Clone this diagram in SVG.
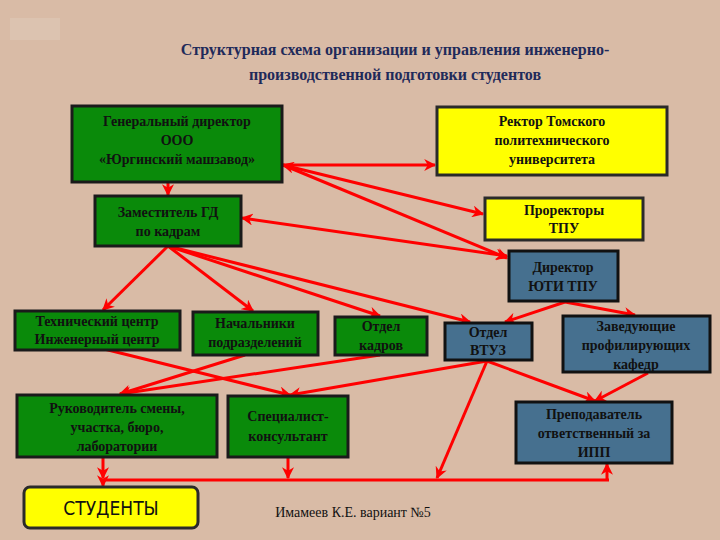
<svg xmlns="http://www.w3.org/2000/svg" width="720" height="540" viewBox="0 0 720 540">
<defs>
<marker id="a" viewBox="0 0 10 10" refX="9" refY="5" markerWidth="4" markerHeight="4" orient="auto-start-reverse"><path d="M0,0 L10,5 L0,10 L3,5 z" fill="#f00"/></marker>
<style>
.g{fill:#0a8a0a;stroke:#1a1a1a;stroke-width:3}
.y{fill:#ffff00;stroke:#2a2a2a;stroke-width:3}
.b{fill:#46708f;stroke:#111;stroke-width:3}
text{font-family:"Liberation Serif",serif;font-size:14px;fill:#111;text-anchor:middle;font-weight:bold}
.c line,.c path{stroke:#f00;stroke-width:3;fill:none}
</style>
</defs>
<rect width="720" height="540" fill="#d9bba6"/>
<rect x="10" y="18" width="50" height="22" fill="#dcc3b0"/>
<text x="395" y="55" style="font-size:16px;fill:#1f2a5a">Структурная  схема организации и управления инженерно-</text>
<text x="395" y="80" style="font-size:16px;fill:#1f2a5a">производственной подготовки студентов</text>
<g class="c">
<line x1="283" y1="165" x2="435" y2="165" marker-end="url(#a)"/>
<line x1="283" y1="165" x2="483" y2="214" marker-start="url(#a)" marker-end="url(#a)"/>
<line x1="283" y1="165" x2="507" y2="258" marker-end="url(#a)"/>
<line x1="168" y1="183" x2="168" y2="195" marker-end="url(#a)"/>
<line x1="242" y1="218" x2="507" y2="256" marker-start="url(#a)" marker-end="url(#a)"/>
<line x1="168" y1="246" x2="103" y2="310" marker-end="url(#a)"/>
<line x1="168" y1="246" x2="253" y2="311" marker-end="url(#a)"/>
<line x1="168" y1="246" x2="380" y2="316" marker-end="url(#a)"/>
<line x1="168" y1="246" x2="470" y2="322" marker-end="url(#a)"/>
<line x1="565" y1="302" x2="505" y2="322" marker-end="url(#a)"/>
<line x1="565" y1="302" x2="635" y2="315" marker-end="url(#a)"/>
<line x1="100" y1="348" x2="290" y2="395" marker-end="url(#a)"/>
<line x1="245" y1="355" x2="120" y2="394" marker-end="url(#a)"/>
<line x1="380" y1="355" x2="120" y2="394" marker-end="url(#a)"/>
<line x1="487" y1="361" x2="290" y2="395" marker-end="url(#a)"/>
<line x1="487" y1="361" x2="595" y2="401" marker-end="url(#a)"/>
<line x1="648" y1="373" x2="595" y2="401" marker-end="url(#a)"/>
<line x1="487" y1="361" x2="437" y2="478" marker-end="url(#a)"/>
<line x1="101" y1="480" x2="609" y2="480"/>
<line x1="103" y1="458" x2="103" y2="478" marker-end="url(#a)"/>
<line x1="288" y1="458" x2="288" y2="478" marker-end="url(#a)"/>
<line x1="607" y1="480" x2="607" y2="464" marker-end="url(#a)"/>
<line x1="103" y1="480" x2="103" y2="486" marker-end="url(#a)"/>
</g>
<g id="gd"><rect class="g" x="72" y="106" width="210" height="76"/><text x="177" y="126">Генеральный директор</text><text x="177" y="145">ООО</text><text x="177" y="164">«Юргинский машзавод»</text></g>
<g id="rector"><rect class="y" x="437" y="107" width="230" height="68"/><text x="552" y="126">Ректор Томского</text><text x="552" y="145">политехнического</text><text x="552" y="164">университета</text></g>
<g id="zam"><rect class="g" x="95" y="196" width="146" height="50"/><text x="168" y="217">Заместитель ГД</text><text x="168" y="236">по кадрам</text></g>
<g id="prorector"><rect class="y" x="485" y="198" width="158" height="42"/><text x="564" y="215">Проректоры</text><text x="564" y="233">ТПУ</text></g>
<g id="director"><rect class="b" x="509" y="251" width="109" height="50"/><text x="563" y="272">Директор</text><text x="563" y="291">ЮТИ ТПУ</text></g>
<g id="tech"><rect class="g" x="15" y="311" width="165" height="39"/><text x="97" y="326">Технический центр</text><text x="97" y="344">Инженерный центр</text></g>
<g id="nach"><rect class="g" x="193" y="312" width="125" height="43"/><text x="255" y="328">Начальники</text><text x="255" y="347">подразделений</text></g>
<g id="kadr"><rect class="g" x="335" y="317" width="92" height="38"/><text x="381" y="331">Отдел</text><text x="381" y="350">кадров</text></g>
<g id="vtuz"><rect class="b" x="445" y="323" width="87" height="37"/><text x="488" y="337">Отдел</text><text x="488" y="355">ВТУЗ</text></g>
<g id="zaved"><rect class="b" x="563" y="316" width="147" height="56"/><text x="636" y="331">Заведующие</text><text x="636" y="350">профилирующих</text><text x="636" y="369">кафедр</text></g>
<g id="ruk"><rect class="g" x="17" y="395" width="200" height="62"/><text x="117" y="413">Руководитель смены,</text><text x="117" y="432">участка, бюро,</text><text x="117" y="451">лаборатории</text></g>
<g id="spec"><rect class="g" x="228" y="396" width="120" height="61"/><text x="288" y="421">Специалист-</text><text x="288" y="441">консультант</text></g>
<g id="prep"><rect class="b" x="516" y="402" width="156" height="61"/><text x="594" y="419">Преподаватель</text><text x="594" y="438">ответственный за</text><text x="594" y="457">ИПП</text></g>
<g id="stud"><rect class="y" x="24" y="487" width="174" height="41" rx="6"/><text x="111" y="515" style="font-family:'DejaVu Sans Condensed','DejaVu Sans',sans-serif;font-size:19px;font-weight:normal">СТУДЕНТЫ</text></g>
<text x="353" y="517" style="font-size:14px;font-weight:normal">Имамеев К.Е. вариант №5</text>
</svg>
